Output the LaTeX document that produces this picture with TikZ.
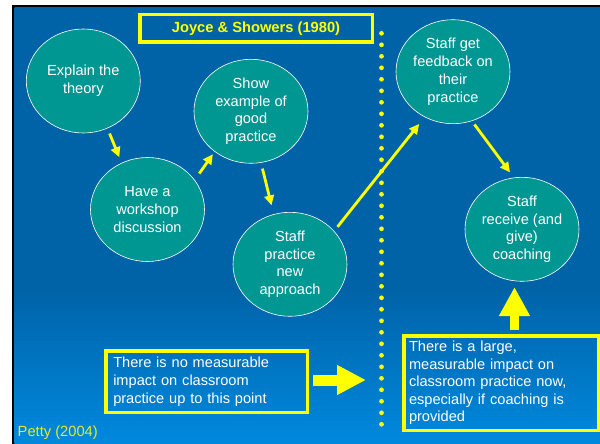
\documentclass[tikz,border=0pt]{standalone}
\usepackage{fontspec}
\setmainfont{Liberation Sans}
\usepackage{tikz}
\usetikzlibrary{shapes.geometric,arrows.meta}

\definecolor{slidetop}{RGB}{0,99,168}
\definecolor{slidebot}{RGB}{0,137,222}
\definecolor{stagefill}{RGB}{0,150,146}
\definecolor{hilite}{RGB}{255,255,0}
\definecolor{citecol}{RGB}{228,236,40}
\pgfdeclareverticalshading{slidebg}{100bp}{color(0bp)=(slidebot); color(25bp)=(slidebot); color(42.6bp)=(slidetop); color(100bp)=(slidetop)}

\begin{document}
\begin{tikzpicture}[
    x=1pt, y=-1pt,
    stage/.style={ellipse, draw=white, line width=0.6pt, fill=stagefill, minimum width=114pt, minimum height=104pt, inner sep=0pt, align=center, text=white, font=\fontsize{14.6}{17.8}\selectfont},
    note/.style={rectangle, draw=hilite, line width=3.5pt, inner ysep=0pt, align=left, text=white, font=\fontsize{14.6}{18}\selectfont},
    titlebox/.style={rectangle, draw=hilite, line width=3.5pt, minimum width=232.5pt, minimum height=27.5pt, inner sep=0pt, text=hilite, font=\bfseries\fontsize{14.7}{17}\selectfont},
    flow/.style={draw=hilite, line width=2.8pt, -{Triangle[length=10pt,width=9.5pt]}},
    bigarrow/.style={draw=hilite, line width=11pt, -{Triangle[length=29pt,width=28pt]}}
]
\useasboundingbox (0,0) rectangle (600,444);
\fill[white] (0,0) rectangle (600,444);
\fill[black] (12,4.7) rectangle (600,444);
\shade[shading=slidebg] (14.7,7.3) rectangle (600,444);

\node[titlebox] (source) at (256,28.5) {Joyce \& Showers (1980)};

\node[stage] (explain) at (83.3,81) {Explain the\\theory};
\node[stage] (workshop) at (147.5,209.5) {Have a\\workshop\\discussion};
\node[stage] (example) at (251,111.3) {Show\\example of\\good\\practice};
\node[stage] (practice) at (290,264.3) {Staff\\practice\\new\\approach};
\node[stage] (feedback) at (453,71.7) {Staff get\\feedback on\\their\\practice};
\node[stage] (coaching) at (522,229.3) {Staff\\receive (and\\give)\\coaching};

\draw[flow, shorten <=5.5pt, shorten >=6.1pt] (explain.297.8) -- (workshop.119.3);
\draw[flow, shorten <=7.8pt, shorten >=3pt] (workshop.32.3) -- (example.228);
\draw[flow, shorten <=6pt, shorten >=9pt] (example.281.4) -- (practice.108.1);
\draw[flow, shorten <=5.3pt, shorten >=8.7pt] (practice.37.7) -- (feedback.238.9);
\draw[flow, shorten <=4.2pt, shorten >=6.4pt] (feedback.291.8) -- (coaching.99.9);

% dotted divider between the two phases
\draw[hilite, line width=4.7pt, line cap=round, dash pattern=on 0pt off 11.5pt] (381.5,33.3) -- (381.5,425);

\node[note, inner xsep=7.5pt, text width=186.5pt, minimum height=61.5pt] (noimpact) at (206.5,381.5) {There is no measurable\\impact on classroom\\practice up to this point};
\node[note, inner xsep=5.25pt, text width=184pt, minimum height=94.5pt, font=\fontsize{14.6}{17.4}\selectfont] (bigimpact) at (501,383) {There is a large,\\measurable impact on\\classroom practice now,\\especially if coaching is\\provided};

\coordinate (gate) at (366,380);
\coordinate (lift) at (514.5,287);
\draw[bigarrow, shorten <=4pt] (noimpact.east |- gate) -- (gate);
\draw[bigarrow, line width=9pt, -{Triangle[length=29pt,width=29pt]}, shorten <=4pt] (lift |- bigimpact.north) -- (lift);

\node[anchor=west, inner sep=0pt, text=citecol, font=\fontsize{14.7}{17}\selectfont] (citation) at (17.5,432.3) {Petty (2004)};
\end{tikzpicture}
\end{document}
